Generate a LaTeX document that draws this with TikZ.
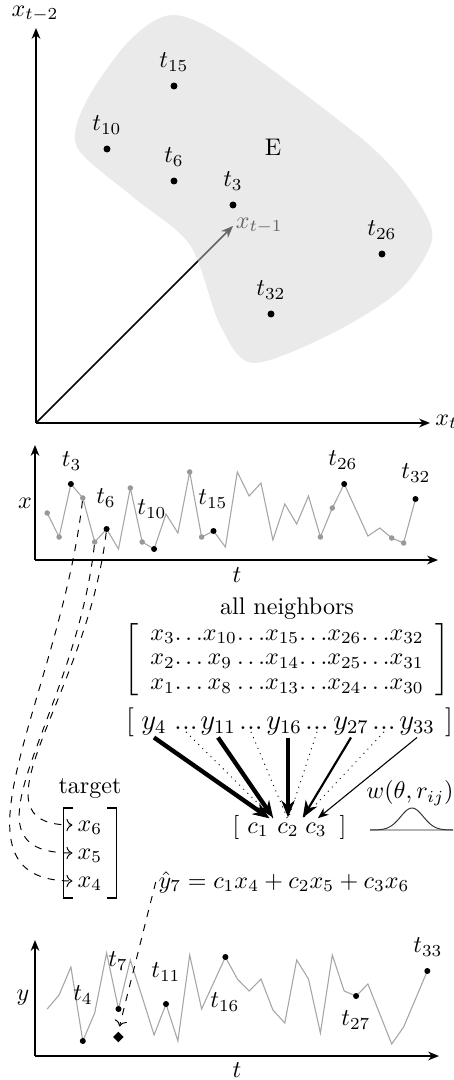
\documentclass[tikz,border=0pt]{standalone}
\usepackage{amsmath}
\usepackage{amssymb}
\usetikzlibrary{
    arrows.meta,
    positioning,
    matrix,
    shapes.geometric
}
\tikzset{
  axisarr/.style = {-{Stealth[length=4.5pt,width=3.6pt]}, line width=0.9pt},
  series/.style  = {gray!70, line width=0.45pt},
  bdot/.style    = {circle, fill=black, inner sep=0pt, minimum size=2.5pt},
  gdot/.style    = {circle, fill=gray!80, inner sep=0pt, minimum size=2.3pt},
  pdot/.style    = {circle, fill=black, inner sep=0pt, minimum size=2.9pt},
  link/.style    = {->, dashed, line width=0.4pt},
  warr/.style    = {-{Stealth[length=7pt,width=5.5pt]}, shorten >=1pt},
  mrow/.style    = {anchor=base, inner sep=1pt},
  yrow/.style    = {anchor=base, inner sep=1pt, font=\large},
  brack/.style   = {line width=0.7pt}
}
\colorlet{blobgray}{gray!34}

\begin{document}
\begin{tikzpicture}[x=0.0146cm, y=-0.0146cm]
  \useasboundingbox (0,0) rectangle (454,1080);

  % ── STATE SPACE ──
  \coordinate (S_o) at (36,423);
  \coordinate (S_y) at (36,28);
  \coordinate (S_x) at (430,423);
  \coordinate (S_q) at (233,226);
  \draw[axisarr] (S_o) -- (S_y);
  \draw[axisarr] (S_o) -- (S_x);
  \node (S_yl) at (35,14) {$x_{t-2}$};
  \node[anchor=west, inner sep=0pt] (S_xl) at (435,422) {$x_t$};
  \draw[-{Stealth[length=5pt,width=4pt]}, line width=0.6pt] (S_o) -- (S_q);
  \node[anchor=west, inner sep=1pt] (S_ql) at (S_q) {$x_{t-1}$};
  % embedding region, laid over the query vector
  \fill[blobgray, fill opacity=0.48] plot[smooth cycle] coordinates {
    (173,15) (233,42) (367,143) (417,200) (432,240) (400,290) (333,333)
    (253,363) (220,325) (190,245) (133,197) (77,147) (87,100) (130,40)};
  \node (E_lab) at (273,147) {E};
  \node[pdot] (P_15) at (174,86)  {};
  \node[pdot] (P_10) at (107,149) {};
  \node[pdot] (P_6)  at (174,181) {};
  \node[pdot] (P_3)  at (233,205) {};
  \node[pdot] (P_26) at (382,254) {};
  \node[pdot] (P_32) at (271,314) {};
  \node[above=1pt of P_15] (P_15l) {$t_{15}$};
  \node[above=1pt of P_10] (P_10l) {$t_{10}$};
  \node[above=1pt of P_6]  (P_6l)  {$t_6$};
  \node[above=1pt of P_3]  (P_3l)  {$t_3$};
  \node[above=1pt of P_26] (P_26l) {$t_{26}$};
  \node[above=1pt of P_32] (P_32l) {$t_{32}$};

  % ── INPUT SERIES ──
  \coordinate (M_o) at (35,560);
  \coordinate (M_y) at (35,445);
  \coordinate (M_x) at (438,560);
  \draw[axisarr] (M_o) -- (M_y);
  \draw[axisarr] (M_o) -- (M_x);
  \node (M_yl) at (25,503) {$x$};
  \node (M_xl) at (237,575) {$t$};
  \draw[series] plot coordinates {
    (47.2,513) (59.1,537) (70.9,484) (82.8,498) (94.7,542) (106.6,529)
    (118.5,549) (130.3,488) (142.2,542) (154.1,549) (166.0,514) (177.9,533)
    (189.7,472) (201.6,537) (213.5,531) (225.4,547) (237.3,472) (249.1,496)
    (261.0,483) (272.9,540) (284.8,504) (296.7,524) (308.5,496) (320.4,537)
    (332.3,508) (344.2,484) (356.1,510) (367.9,536) (379.8,528) (391.7,538)
    (403.6,543) (415.5,499)};
  \node[gdot] (M_1)  at (47.2,513)  {};
  \node[gdot] (M_2)  at (59.1,537)  {};
  \node[gdot] (M_4)  at (82.8,498)  {};
  \node[gdot] (M_5)  at (94.7,542)  {};
  \node[gdot] (M_8)  at (130.3,488) {};
  \node[gdot] (M_9)  at (142.2,542) {};
  \node[gdot] (M_13) at (189.7,472) {};
  \node[gdot] (M_14) at (201.6,537) {};
  \node[gdot] (M_24) at (320.4,537) {};
  \node[gdot] (M_25) at (332.3,508) {};
  \node[gdot] (M_30) at (391.7,538) {};
  \node[gdot] (M_31) at (403.6,543) {};
  \node[bdot] (M_3)  at (70.9,484)  {};
  \node[bdot] (M_6)  at (106.6,529) {};
  \node[bdot] (M_10) at (154.1,549) {};
  \node[bdot] (M_15) at (213.5,531) {};
  \node[bdot] (M_26) at (344.2,484) {};
  \node[bdot] (M_32) at (415.5,499) {};
  \node (M_3l)  at (71.7,461) {$t_3$};
  \node (M_6l)  at (106,498)  {$t_6$};
  \node (M_10l) at (152,509)  {$t_{10}$};
  \node (M_15l) at (213,499)  {$t_{15}$};
  \node (M_26l) at (343,460)  {$t_{26}$};
  \node (M_32l) at (416,473)  {$t_{32}$};

  % ── NEIGHBORS AND WEIGHTS ──
  \node[inner sep=0pt] (NB) at (287,660) {$\def\arraystretch{0.85}\left[\begin{array}{c@{}c@{}c@{}c@{}c@{}c@{}c@{}c@{}c}
      x_3 & \ldots & x_{10} & \ldots & x_{15} & \ldots & x_{26} & \ldots & x_{32}\\
      x_2 & \ldots & x_9    & \ldots & x_{14} & \ldots & x_{25} & \ldots & x_{31}\\
      x_1 & \ldots & x_8    & \ldots & x_{13} & \ldots & x_{24} & \ldots & x_{30}
    \end{array}\right]$};
  \node[above=0pt of NB, inner sep=1pt] (NB_l) {all neighbors};

  \node[yrow] (Y_l)  at (130,729) {$[$};
  \node[yrow] (Y_4)  at (154,729) {$y_4$};
  \node[yrow] (D_1)  at (186,729) {$...$};
  \node[yrow] (Y_11) at (218,729) {$y_{11}$};
  \node[yrow] (D_2)  at (251,729) {$...$};
  \node[yrow] (Y_16) at (284,729) {$y_{16}$};
  \node[yrow] (D_3)  at (317,729) {$...$};
  \node[yrow] (Y_27) at (351,729) {$y_{27}$};
  \node[yrow] (D_4)  at (384,729) {$...$};
  \node[yrow] (Y_33) at (417,729) {$y_{33}$};
  \node[yrow] (Y_r)  at (449,729) {$]$};

  \node[mrow] (C_l) at (236,833) {$[$};
  \node[mrow] (C_1) at (258,833) {$c_1$};
  \node[mrow] (C_2) at (288,833) {$c_2$};
  \node[mrow] (C_3) at (316,833) {$c_3$};
  \node[mrow] (C_r) at (343,833) {$]$};

  \draw[warr, line width=1.8pt] (Y_4.south)  -- (C_1.north east);
  \draw[warr, line width=1.8pt] (Y_11.south) -- (C_2.north west);
  \draw[warr, line width=1.5pt] (Y_16.south -| C_2) -- (C_2.north);
  \draw[warr, line width=0.9pt] (Y_27.south) -- (C_2.north east);
  \draw[-{Stealth[length=4.5pt,width=3.5pt]}, line width=0.45pt, shorten >=1pt]
    (Y_33.south) -- (C_3.north);
  \draw[dotted, line width=0.4pt] (D_1.south) -- (C_2.north west);
  \draw[dotted, line width=0.4pt] (D_2.south) -- (C_2.north);
  \draw[dotted, line width=0.4pt] (D_3.south) -- (C_2.north);
  \draw[dotted, line width=0.4pt] (D_4.south) -- (C_2.north east);

  % kernel
  \coordinate (G_a) at (370,830);
  \coordinate (G_b) at (453,830);
  \draw[gray!60, line width=0.9pt] (G_a) -- (G_b);
  \draw[gray!40!black, line width=0.4pt]
    plot[domain=370:453, samples=60] (\x, {830-22*exp(-(((\x-412)/16)^2))});
  \node (W_l) at (410,793) {$w(\theta, r_{ij})$};

  % ── TARGET ──
  \matrix (TG) [matrix of math nodes, inner xsep=3.7pt, inner ysep=0.5pt, row sep=-1pt,
                nodes={inner sep=2pt, text height=1.6ex, text depth=.4ex}]
    at (90,853) {x_6 \\ x_5 \\ x_4 \\};
  \draw[brack] ([xshift=4pt]TG.north west) -- (TG.north west)
               -- (TG.south west) -- ([xshift=4pt]TG.south west);
  \draw[brack] ([xshift=-4pt]TG.north east) -- (TG.north east)
               -- (TG.south east) -- ([xshift=-4pt]TG.south east);
  \node[above=3pt of TG, inner sep=1pt] (TG_l) {target};

  \draw[link] (M_4) .. controls +(-23,200) and +(-135,0) .. (TG-3-1.west);
  \draw[link] (M_5) .. controls +(-20,180) and +(-122,0) .. (TG-2-1.west);
  \draw[link] (M_6) .. controls +(-20,170) and +(-108,0) .. (TG-1-1.west);

  \node[inner sep=1pt] (PR) at (284,882) {$\hat{y}_7 = c_1x_4 + c_2x_5 + c_3x_6$};

  % ── OUTPUT SERIES ──
  \coordinate (B_o) at (35,1056);
  \coordinate (B_y) at (35,940);
  \coordinate (B_x) at (439,1056);
  \draw[axisarr] (B_o) -- (B_y);
  \draw[axisarr] (B_o) -- (B_x);
  \node (B_yl) at (23,998)  {$y$};
  \node (B_xl) at (237,1070) {$t$};
  \draw[series] plot coordinates {
    (47.2,1009) (59.1,995) (70.9,967) (82.8,1041) (94.7,1013) (106.6,953)
    (118.5,1009) (130.3,960) (142.2,997) (154.1,1035) (166.0,1004) (177.9,1041)
    (189.7,955) (201.6,1009) (213.5,983) (225.4,957) (237.3,979) (249.1,991)
    (261.0,979) (272.9,1010) (284.8,1023) (296.7,960) (308.5,979) (320.4,1033)
    (332.3,955) (344.2,991) (356.1,996) (367.9,984) (379.8,1014) (391.7,1044)
    (403.6,1027) (415.5,999) (427.3,971)};
  \node[bdot] (B_4)  at (82.8,1041)  {};
  \node[bdot] (B_7)  at (118.5,1009) {};
  \node[bdot] (B_11) at (166.0,1004) {};
  \node[bdot] (B_16) at (225.4,957)  {};
  \node[bdot] (B_27) at (356.1,996)  {};
  \node[bdot] (B_33) at (427.3,971)  {};
  \node (B_4l)  at (83,995)   {$t_4$};
  \node (B_7l)  at (118,961)  {$t_7$};
  \node (B_11l) at (166,972)  {$t_{11}$};
  \node (B_16l) at (225,1002) {$t_{16}$};
  \node (B_27l) at (356,1020) {$t_{27}$};
  \node (B_33l) at (428,947)  {$t_{33}$};
  \node[diamond, fill=black, inner sep=0pt, minimum size=4.5pt] (B_d) at (118.3,1037) {};
  \draw[link, shorten >=2pt] (PR.west) -- (B_d.north);
\end{tikzpicture}
\end{document}
